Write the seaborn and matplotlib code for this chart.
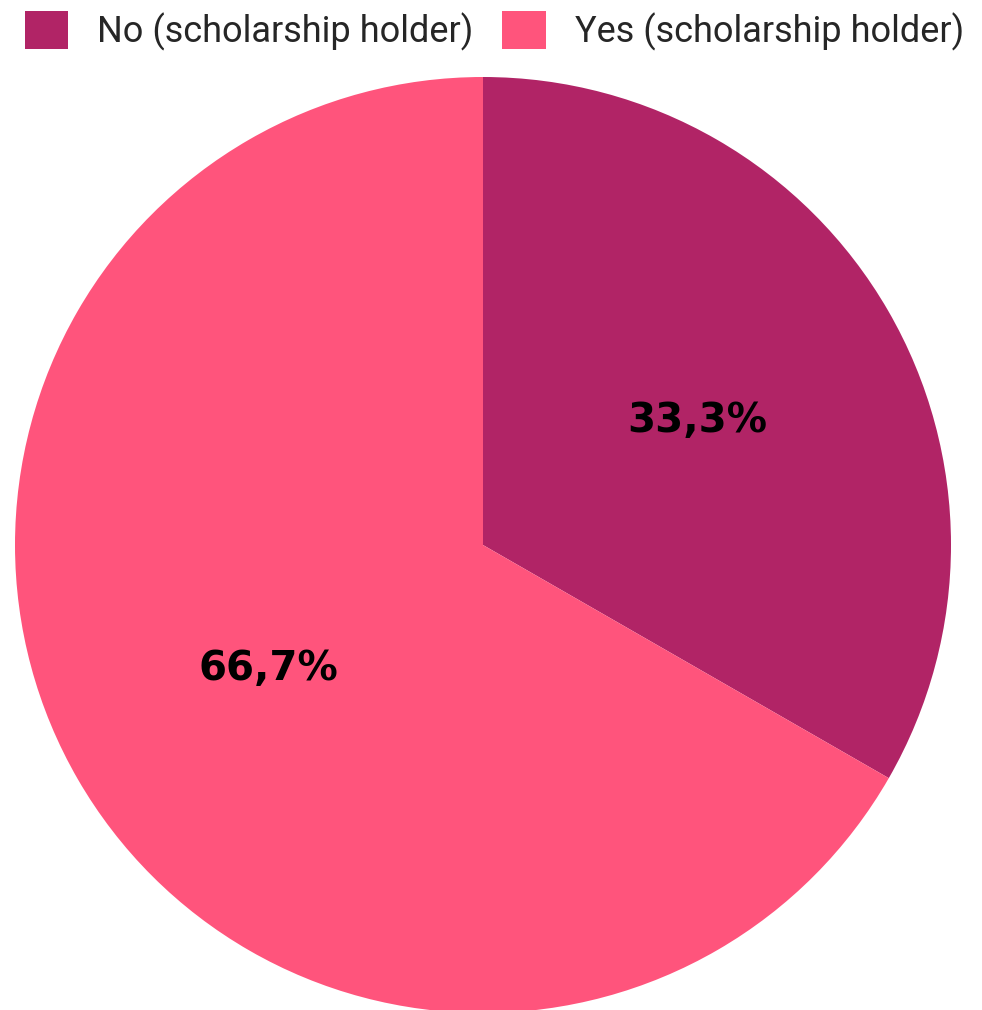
import matplotlib
matplotlib.use("Agg")
import matplotlib.pyplot as plt
import matplotlib.patches as mpatches
import seaborn as sns

# Data
categories = ["No (scholarship holder)", "Yes (scholarship holder)"]
shares = [33.3, 66.7]
colors = ["#B12466", "#FF547C"]

sns.set_theme(style="white")
plt.rcParams['font.family'] = ['Roboto', 'DejaVu Sans']

fig = plt.figure(figsize=(9.82, 10.10), dpi=100, facecolor='white')

# Pie area placed so the circle sits like the reference
ax = fig.add_axes([15 / 982, -3 / 1010, 936 / 982, 936 / 1010])
wedges, texts, autotexts = ax.pie(
    shares, colors=colors, startangle=90, counterclock=False,
    autopct=lambda p: f'{p:.1f}%'.replace('.', ','), pctdistance=0.53,
    wedgeprops=dict(linewidth=0), radius=1.0)
for t in autotexts:
    t.set_fontsize(29)
    t.set_fontweight('bold')
    t.set_family('DejaVu Sans')
    t.set_color('black')
ax.set_xlim(-1, 1)
ax.set_ylim(-1, 1)
ax.set_aspect('equal')
ax.axis('off')

# Legend across the top
handles = [mpatches.Patch(facecolor=c, edgecolor='none', label=l) for c, l in zip(colors, categories)]
leg = fig.legend(handles=handles, loc='upper left', bbox_to_anchor=(25 / 982, 1 - 11 / 1010), ncol=2,
                 frameon=False, handlelength=1.2, handleheight=1.25,
                 handletextpad=0.8, columnspacing=0.8, borderaxespad=0, borderpad=0,
                 prop={'family': ['Roboto', 'DejaVu Sans'], 'size': 26})

fig.savefig('out.png', dpi=100, facecolor='white')
